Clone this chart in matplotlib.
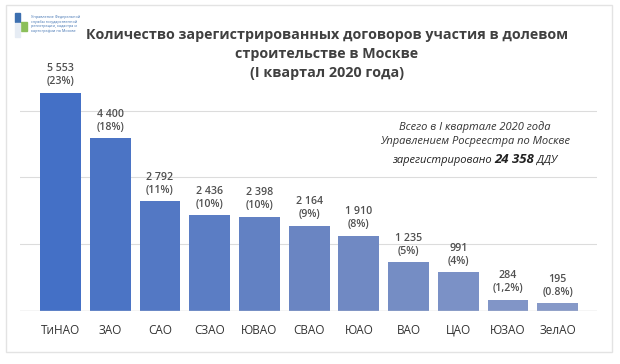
import matplotlib
matplotlib.use("Agg")
import matplotlib.pyplot as plt
import numpy as np
from matplotlib.colors import LinearSegmentedColormap
from matplotlib.patches import Rectangle

# data
districts = ["ТиНАО", "ЗАО", "САО", "СЗАО", "ЮВАО", "СВАО", "ЮАО", "ВАО", "ЦАО", "ЮЗАО", "ЗелАО"]
counts = [5553, 4400, 2792, 2436, 2398, 2164, 1910, 1235, 991, 284, 195]
shares = ["23%", "18%", "11%", "10%", "10%", "9%", "8%", "5%", "4%", "1,2%", "0.8%"]
total_label = "24 358"
grid_ticks = [1700, 3400, 5100]

plt.rcParams['font.family'] = ['Open Sans', 'DejaVu Sans']

fig = plt.figure(figsize=(6.2, 3.64), dpi=100)
fig.patch.set_facecolor("white")

# outer frame
fig.patches.append(Rectangle((6 / 620, 1 - 352 / 364), 606 / 620, 347 / 364,
                             transform=fig.transFigure, fill=False,
                             edgecolor="#e3e3e3", linewidth=1.0))

ax = fig.add_axes([20 / 620, 53 / 364, 577 / 620, 251 / 364])
ax.set_xlim(-0.815, 10.79)
ax.set_ylim(0, 6390)

cmap = LinearSegmentedColormap.from_list("bl", ["#4470c6", "#6a85c2", "#8699c8"])
x = np.arange(len(districts))
colors = [cmap(i / (len(districts) - 1)) for i in x]
bars = ax.bar(x, counts, width=0.82, color=colors, zorder=3)

for xi, c, s in zip(x, counts, shares):
    label = f"{c:,}".replace(",", " ") + f"\n({s})"
    ax.annotate(label, (xi, c), xytext=(0, 4), textcoords="offset points",
                ha="center", va="bottom", fontsize=7.7, color="#505050",
                fontweight="semibold", linespacing=1.25)

for t in grid_ticks:
    ax.axhline(t, color="#dcdcdc", linewidth=0.8, zorder=1)
ax.axhline(0, color="#d0d0d0", linewidth=1.0, zorder=4)

ax.set_xticks(x)
ax.set_xticklabels(districts, fontsize=8.5, color="#333333")
ax.tick_params(axis="x", length=0, pad=9)
ax.set_yticks([])
for sp in ax.spines.values():
    sp.set_visible(False)
ax.patch.set_alpha(0)

# title
fig.text(0.527, 1 - 54 / 364,
         "Количество зарегистрированных договоров участия в долевом\n"
         "строительстве в Москве\n(I квартал 2020 года)",
         ha="center", va="center", fontsize=10.3, fontweight="bold",
         color="#404040", linespacing=1.5)

# note
note_x = 475 / 620
fig.text(note_x, 1 - 127 / 364, "Всего в I квартале 2020 года",
         ha="center", va="center", fontsize=8, style="italic", color="#333333")
fig.text(note_x, 1 - 142 / 364, "Управлением Росреестра по Москве",
         ha="center", va="center", fontsize=8, style="italic", color="#333333")
# last line built from three pieces
renderer = fig.canvas.get_renderer()
parts = [("зарегистрировано ", dict(fontsize=8, style="italic")),
         (total_label, dict(fontsize=9.5, style="italic", fontweight="bold")),
         (" ДДУ", dict(fontsize=8, style="italic"))]
texts = [fig.text(0, 1 - 163 / 364, p, ha="left", va="baseline", color="#222222", **kw)
         for p, kw in parts]
widths = [t.get_window_extent(renderer).width / fig.bbox.width for t in texts]
start = note_x - sum(widths) / 2
for t, w in zip(texts, widths):
    t.set_x(start)
    start += w

# logo
fig.patches.append(Rectangle((15 / 620, 1 - 22 / 364), 5 / 620, 9 / 364,
                             transform=fig.transFigure, color="#3c6fb0"))
fig.patches.append(Rectangle((21 / 620, 1 - 31 / 364), 6 / 620, 9 / 364,
                             transform=fig.transFigure, color="#8cbf5a"))
fig.patches.append(Rectangle((15 / 620, 1 - 37 / 364), 5 / 620, 14 / 364,
                             transform=fig.transFigure, color="#e6ecf4"))
fig.text(31 / 620, 1 - 24 / 364,
         "Управление Федеральной\nслужбы государственной\nрегистрации, кадастра и\nкартографии по Москве",
         ha="left", va="center", fontsize=2.7, color="#3c6fb0", linespacing=1.3)

fig.savefig("out.png", dpi=100, facecolor="white")
